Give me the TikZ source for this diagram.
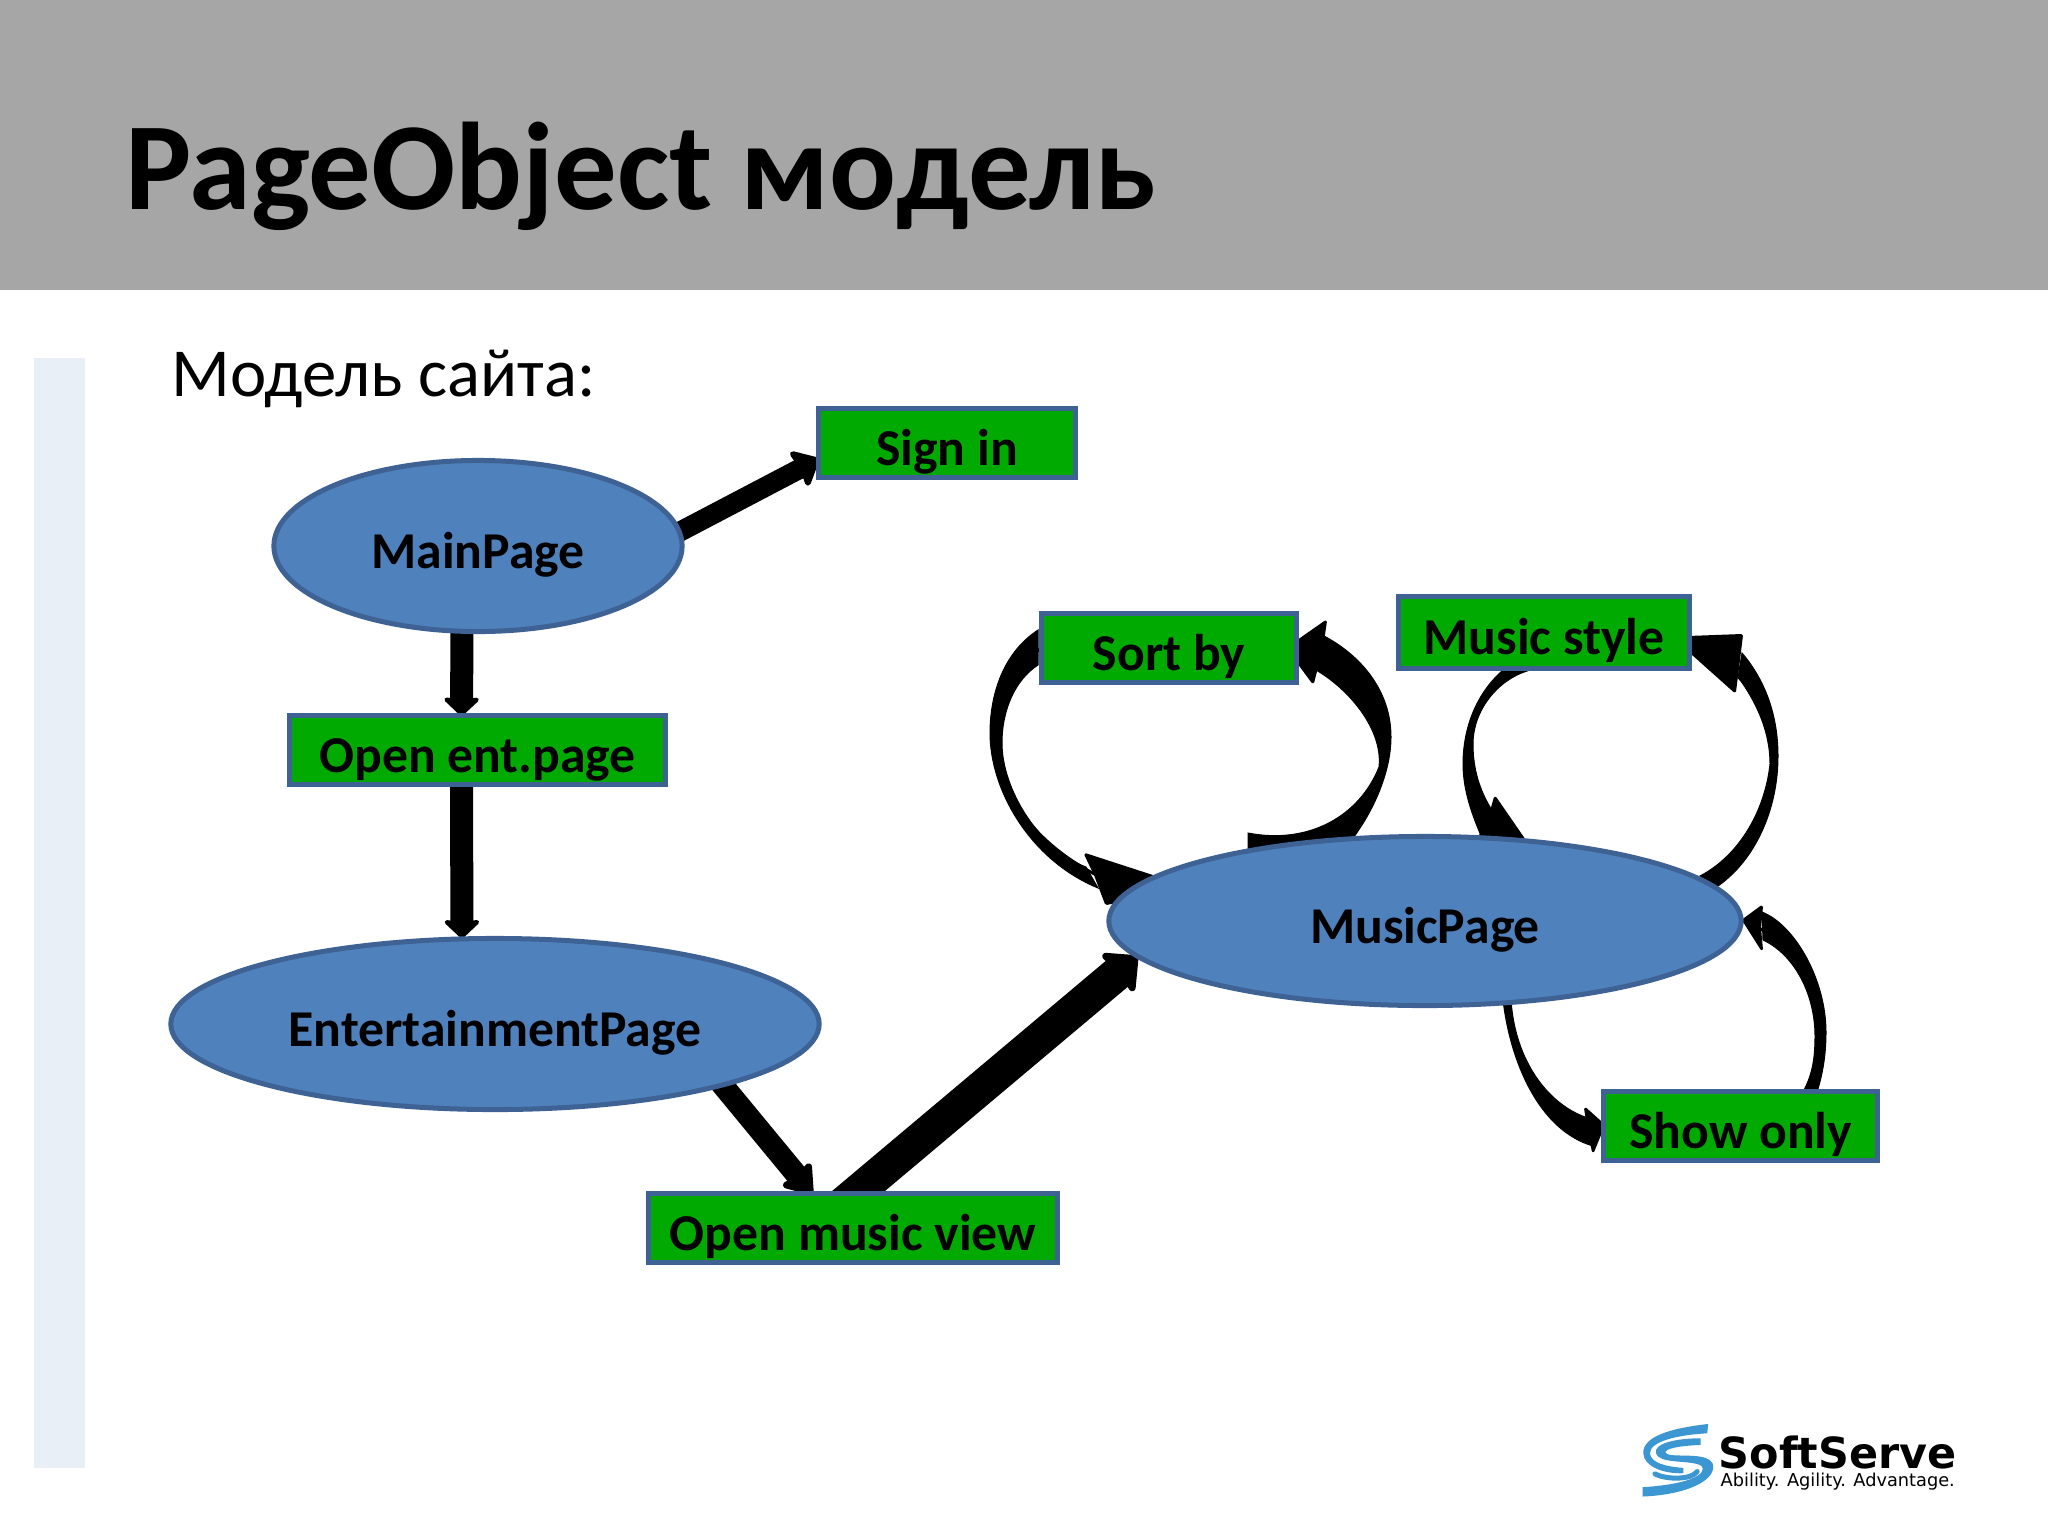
\documentclass[tikz,border=0pt]{standalone}
\usepackage{fontspec}
\setmainfont{Carlito}
\newfontfamily\logofont{DejaVu Sans}
\usetikzlibrary{arrows.meta,shapes.geometric,backgrounds}
\definecolor{hdr}{HTML}{A6A6A6}
\definecolor{sidebar}{HTML}{E9EFF7}
\definecolor{boxgreen}{HTML}{00AA00}
\definecolor{edgeblue}{HTML}{3F6294}
\definecolor{ovalblue}{HTML}{4F81BD}
\definecolor{logoblue}{HTML}{3B96D2}
\tikzset{
  lbl/.style={font=\bfseries\fontsize{14.7pt}{17pt}\selectfont,text=black,inner sep=0pt,outer sep=0pt,text height=0.5cm,text depth=0.06cm,align=center},
  actbox/.style={lbl,rectangle,draw=edgeblue,fill=boxgreen,line width=0.05cm},
  pageoval/.style={lbl,ellipse,draw=edgeblue,fill=ovalblue,line width=0.05cm},
  wire/.style={black,line width=0.03cm},
  band/.style={fill=black,draw=black,line width=0.01cm},
  head/.style={fill=black,draw=black,line width=0.02cm,line join=round,rounded corners=0.01cm},
  bigarrow/.style={black,line width=#1},
  logoline/.style={logoblue,line cap=round,line join=round}
}
\begin{document}
\begin{tikzpicture}[x=0.01cm,y=-0.01cm]
\useasboundingbox (0,0) rectangle (2048,1536);
\fill[hdr] (0,0) rectangle (2048,290);
\fill[sidebar] (34,358) rectangle (85,1468);
\node[anchor=base west,inner sep=0pt,font=\bfseries\fontsize{35.45pt}{40pt}\selectfont] (title) at (125,209) {PageObject модель};
\node[anchor=base west,inner sep=0pt,font=\fontsize{19.55pt}{25pt}\selectfont] (sub) at (171,396) {Модель сайта:};

\node[pageoval,minimum width=4.08cm,minimum height=1.71cm] (main) at (478,546) {MainPage};
\node[pageoval,minimum width=6.48cm,minimum height=1.71cm] (ent) at (495,1024) {EntertainmentPage};
\node[pageoval,minimum width=6.32cm,minimum height=1.69cm] (music) at (1425,921) {MusicPage};
\node[actbox,minimum width=2.56cm,minimum height=0.68cm] (signin) at (947,443) {Sign in};
\node[actbox,minimum width=3.75cm,minimum height=0.68cm] (openent) at (477.5,750) {Open ent.page};
\node[actbox,minimum width=2.54cm,minimum height=0.68cm] (sortby) at (1169,648) {Sort by};
\node[actbox,minimum width=2.9cm,minimum height=0.71cm] (style) at (1544,632.5) {Music style};
\node[actbox,minimum width=2.73cm,minimum height=0.68cm] (show) at (1740.5,1126) {Show only};
\node[actbox,minimum width=4.09cm,minimum height=0.68cm] (mview) at (853,1228) {Open music view};

\begin{scope}[on background layer]
\fill[white] (0,0) rectangle (2048,1536);
\draw[bigarrow=0.2cm,shorten <=-0.1cm,-{Stealth[length=0.26cm,width=0.46cm,inset=0.03cm,round]}] (main.4) -- (signin.187);
\draw[bigarrow=0.23cm,-{Stealth[length=0.2cm,width=0.42cm,inset=0.03cm,round]}] ([xshift=-0.16cm]main.south) -- ([xshift=-0.16cm]openent.north);
\draw[bigarrow=0.23cm,-{Stealth[length=0.2cm,width=0.42cm,inset=0.03cm,round]}] ([xshift=-0.16cm]openent.south) -- ([xshift=-0.33cm]ent.north);
\draw[bigarrow=0.22cm,shorten <=-0.1cm,-{Stealth[length=0.3cm,width=0.42cm,inset=0.03cm,round]}] (ent.-15) -- (mview.140);
\draw[bigarrow=0.34cm,shorten <=-0.3cm,-{Stealth[length=0.3cm,width=0.58cm,inset=0.03cm,round]}] ([xshift=0.02cm]mview.north) -- (music.187);

% Sort by -> MusicPage
\fill[band] (1038,630) .. controls (1000,655) and (990,700) .. (990,733) .. controls (990,790) and (1030,860) .. (1098,888) -- (1086,867) .. controls (1040,850) and (1002,790) .. (1002,743) .. controls (1002,710) and (1015,680) .. (1038,665) -- cycle;
\draw[wire] (sortby.west) .. controls (1005,670) and (995,700) .. (996,738) .. controls (996,790) and (1035,855) .. (music.174);
\fill[head] (1085,854) -- (1165,880) -- (1165,893) -- (1106,904) -- (1095,875) -- cycle;
% MusicPage -> Sort by
\fill[band] (1355,860) -- (1350,842) .. controls (1375,810) and (1391,770) .. (1391,737) .. controls (1391,690) and (1360,655) .. (1324,636) -- (1316,670) .. controls (1350,690) and (1383,730) .. (1379,767) .. controls (1360,815) and (1310,845) .. (1248,833) -- (1248,860) -- cycle;
\draw[wire] (music.148) .. controls (1340,840) and (1385,800) .. (1385,750) .. controls (1385,710) and (1350,660) .. (sortby.east);
\fill[head] (1296,642) -- (1326,621) -- (1322,648) -- (1313,683) -- (1296,660) -- cycle;
% Music style -> MusicPage
\fill[band] (1502,671) .. controls (1475,695) and (1463,730) .. (1463,764) .. controls (1463,790) and (1472,815) .. (1482,838) -- (1500,838) -- (1490,807) .. controls (1480,790) and (1473,770) .. (1473,744) .. controls (1473,710) and (1498,680) .. (1527,671) -- cycle;
\draw[wire] ([xshift=-0.3cm]style.south) .. controls (1485,690) and (1468,725) .. (1468,754) .. controls (1468,790) and (1480,820) .. (music.43);
\fill[head] (1495,797) -- (1535,855) -- (1470,850) -- (1487,825) -- cycle;
% MusicPage -> Music style
\fill[band] (1718,886) .. controls (1755,860) and (1778,810) .. (1778,756) .. controls (1778,715) and (1765,680) .. (1742,653) -- (1738,677) .. controls (1755,700) and (1770,730) .. (1770,764) .. controls (1765,810) and (1740,855) .. (1700,876) -- cycle;
\draw[wire] (music.8) .. controls (1750,855) and (1774,810) .. (1774,760) .. controls (1774,715) and (1750,670) .. (style.-6);
\fill[head] (1688,637) -- (1742,635) -- (1739,660) -- (1735,692) -- (1688,650) -- cycle;
% Show only -> MusicPage
\fill[band] (1817,1092) .. controls (1824,1070) and (1826,1050) .. (1826,1032) .. controls (1826,980) and (1795,925) .. (1762,912) -- (1763,940) .. controls (1795,955) and (1815,995) .. (1815,1036) .. controls (1815,1060) and (1812,1075) .. (1803,1092) -- cycle;
\draw[wire] (show.27) .. controls (1818,1070) and (1820,1050) .. (1820,1034) .. controls (1820,985) and (1790,935) .. (music.east);
\fill[head] (1743,920) -- (1762,906) -- (1760,928) -- (1762,950) -- cycle;
% MusicPage -> Show only
\fill[band] (1503,1000) .. controls (1510,1060) and (1538,1130) .. (1593,1146) -- (1585,1117) .. controls (1547,1103) and (1515,1060) .. (1511,1000) -- cycle;
\draw[wire] (music.-45) .. controls (1512,1060) and (1540,1120) .. (show.west);
\fill[head] (1604,1125) -- (1585,1108) -- (1588,1128) -- (1593,1152) -- cycle;
\end{scope}

% logo
\begin{scope}[shift={(1620,1400)},x=0.00333cm,y=-0.00333cm]
\fill[logoblue] (265,72) .. controls (150,85) and (68,110) .. (70,160) .. controls (72,200) and (130,222) .. (190,220) -- (190,204) .. controls (140,200) and (92,190) .. (90,160) .. controls (90,125) and (170,105) .. (262,100) -- cycle;
\fill[logoblue] (242,115) .. controls (170,115) and (100,130) .. (108,160) .. controls (118,192) and (200,180) .. (240,195) .. controls (262,205) and (255,250) .. (68,262) -- (68,290) .. controls (200,285) and (295,240) .. (278,190) .. controls (262,160) and (190,170) .. (150,165) .. controls (125,160) and (125,140) .. (242,135) -- cycle;
\draw[logoline,line width=0.05cm] (105,222) .. controls (140,240) and (215,240) .. (232,215);
\end{scope}
\node[anchor=base west,inner sep=0pt,text depth=0pt,font=\logofont\bfseries\fontsize{12.2pt}{14pt}\selectfont] (brand) at (1718,1468) {SoftServe};
\node[anchor=base west,inner sep=0pt,text height=0.11cm,font=\logofont\fontsize{5.05pt}{6pt}\selectfont] (tagline) at (1720,1486) {Ability. Agility. Advantage.};
\end{tikzpicture}
\end{document}
